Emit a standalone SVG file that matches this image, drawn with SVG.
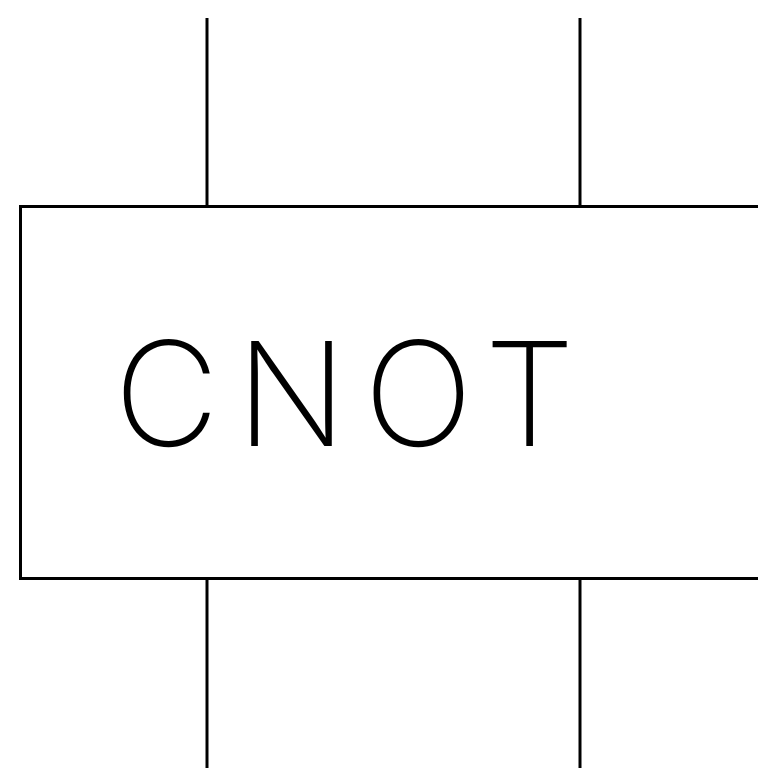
<svg xmlns="http://www.w3.org/2000/svg" width="758" height="770" viewBox="0 0 758 770">
<style>
.ln{stroke:#000;stroke-width:3;fill:none}
.lbl{font-family:Inter,"Liberation Sans",sans-serif;font-weight:200;font-size:145px;fill:#000}
</style>
<rect width="758" height="770" fill="#fff"/>
<g id="connectors">
<line class="ln" x1="207" y1="18" x2="207" y2="206"/>
<line class="ln" x1="580" y1="18" x2="580" y2="206"/>
<line class="ln" x1="207" y1="578" x2="207" y2="768"/>
<line class="ln" x1="580" y1="578" x2="580" y2="768"/>
</g>
<g id="cnot">
<path class="ln" d="M770,206.5 H20.5 V578.5 H770"/>
<text class="lbl" x="114" y="446" textLength="461" lengthAdjust="spacing">CNOT</text>
</g>
</svg>
